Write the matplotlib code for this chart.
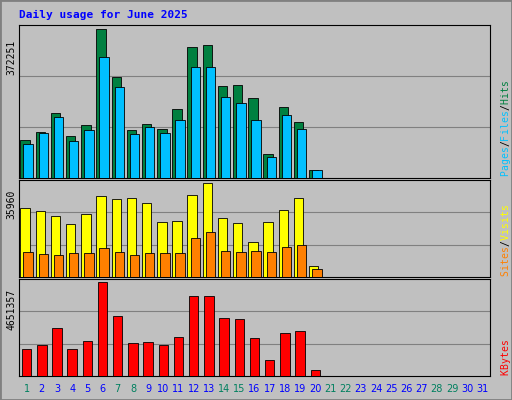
import numpy as np
import matplotlib.pyplot as plt

days = np.arange(1, 32)
hits = [94300,114700,163200,104500,132600,372251,252400,119800,135100,122400,173400,328900,334000,229500,232000,201400,61200,178500,140200,20400]
files = [84100,112200,153000,91800,119800,303400,226900,109600,127500,112200,145300,277900,277900,204000,188700,145300,53500,158100,122400,20400]
visits = [26190,25020,23450,20330,24240,30880,29710,30100,28140,21110,21500,31270,35960,22670,20720,13290,21110,25410,30100,4300]
sites = [9380,8600,8210,8990,8990,10950,9380,8210,8990,8990,8990,14850,17200,9770,9380,9770,9380,11340,12120,3130]
kbytes = [1314500,1516700,2376200,1314500,1719000,4651357,2982900,1617900,1668400,1516700,1921200,3943500,3943500,2881800,2831200,1870600,808900,2123400,2224600,303300]
weekend = [1, 7, 8, 14, 15, 21, 22, 28, 29]

W, H = 512, 400
fig = plt.figure(figsize=(W / 100, H / 100), dpi=100, facecolor='#C0C0C0')
fig.patches.append(plt.Rectangle((0, 0), 1, 1, transform=fig.transFigure, fill=False, ec='#808080', lw=2))
fig.text(19 / W, 1 - 15 / H, 'Daily usage for June 2025', color='#0000FF', family='DejaVu Sans Mono',
         weight='bold', fontsize=8, va='center')

def panel(top, bottom):
    ax = fig.add_axes([19 / W, 1 - bottom / H, (490 - 19) / W, (bottom - top) / H])
    ax.set_facecolor('#C0C0C0')
    ax.set_xlim(0.5, 31.5)
    ax.set_xticks([])
    for s in ax.spines.values():
        s.set_color('#000000')
        s.set_linewidth(0.8)
    ax.tick_params(axis='y', length=0, labelsize=7, pad=2)
    return ax, bottom - top

def series(ax, vals, color, off, width):
    x = np.arange(1, len(vals) + 1) + off
    ax.bar(x, vals, width=width, color=color, edgecolor='black', linewidth=0.6, zorder=3)

def grid(ax, vmax):
    top = vmax * 1.03
    ax.set_ylim(0, top)
    for f in (1 / 3, 2 / 3):
        ax.axhline(top * f, color='#808080', lw=0.8, zorder=1)
    ax.set_yticks([vmax * 0.93])
    ax.set_yticklabels([str(vmax)], rotation=90, va='top', family='DejaVu Sans Mono')

def side_label(ax, hpx, parts):
    step = 6.0 / hpx
    y = 0.01
    for txt, c in parts:
        for ch in txt:
            ax.text(1.022, y, ch, color=c, rotation=90, transform=ax.transAxes, family='DejaVu Sans Mono',
                    fontsize=7, va='bottom', ha='left')
            y += step

ax1, h1 = panel(25, 178)
grid(ax1, 372251)
series(ax1, hits, '#008040', -0.1, 0.62)
series(ax1, files, '#00C0FF', 0.1, 0.62)
side_label(ax1, h1, [('Pages', '#00C0FF'), ('/', '#000000'), ('Files', '#00C0FF'), ('/', '#000000'), ('Hits', '#008040')])

ax2, h2 = panel(180, 277)
grid(ax2, 35960)
series(ax2, visits, '#FFFF00', -0.1, 0.62)
series(ax2, sites, '#FF8000', 0.1, 0.62)
side_label(ax2, h2, [('Sites', '#FF8000'), ('/', '#000000'), ('Visits', '#FFFF00')])

ax3, h3 = panel(279, 376)
grid(ax3, 4651357)
series(ax3, kbytes, '#FF0000', 0, 0.62)
side_label(ax3, h3, [('KBytes', '#FF0000')])

for d in days:
    fig.text((19 + (d - 0.5) * (471 / 31)) / W, 1 - 389 / H, str(d), ha='center', va='center', fontsize=7,
             color='#00805F' if d in weekend else '#0000FF')

fig.savefig('out.png', dpi=100, facecolor=fig.get_facecolor())
